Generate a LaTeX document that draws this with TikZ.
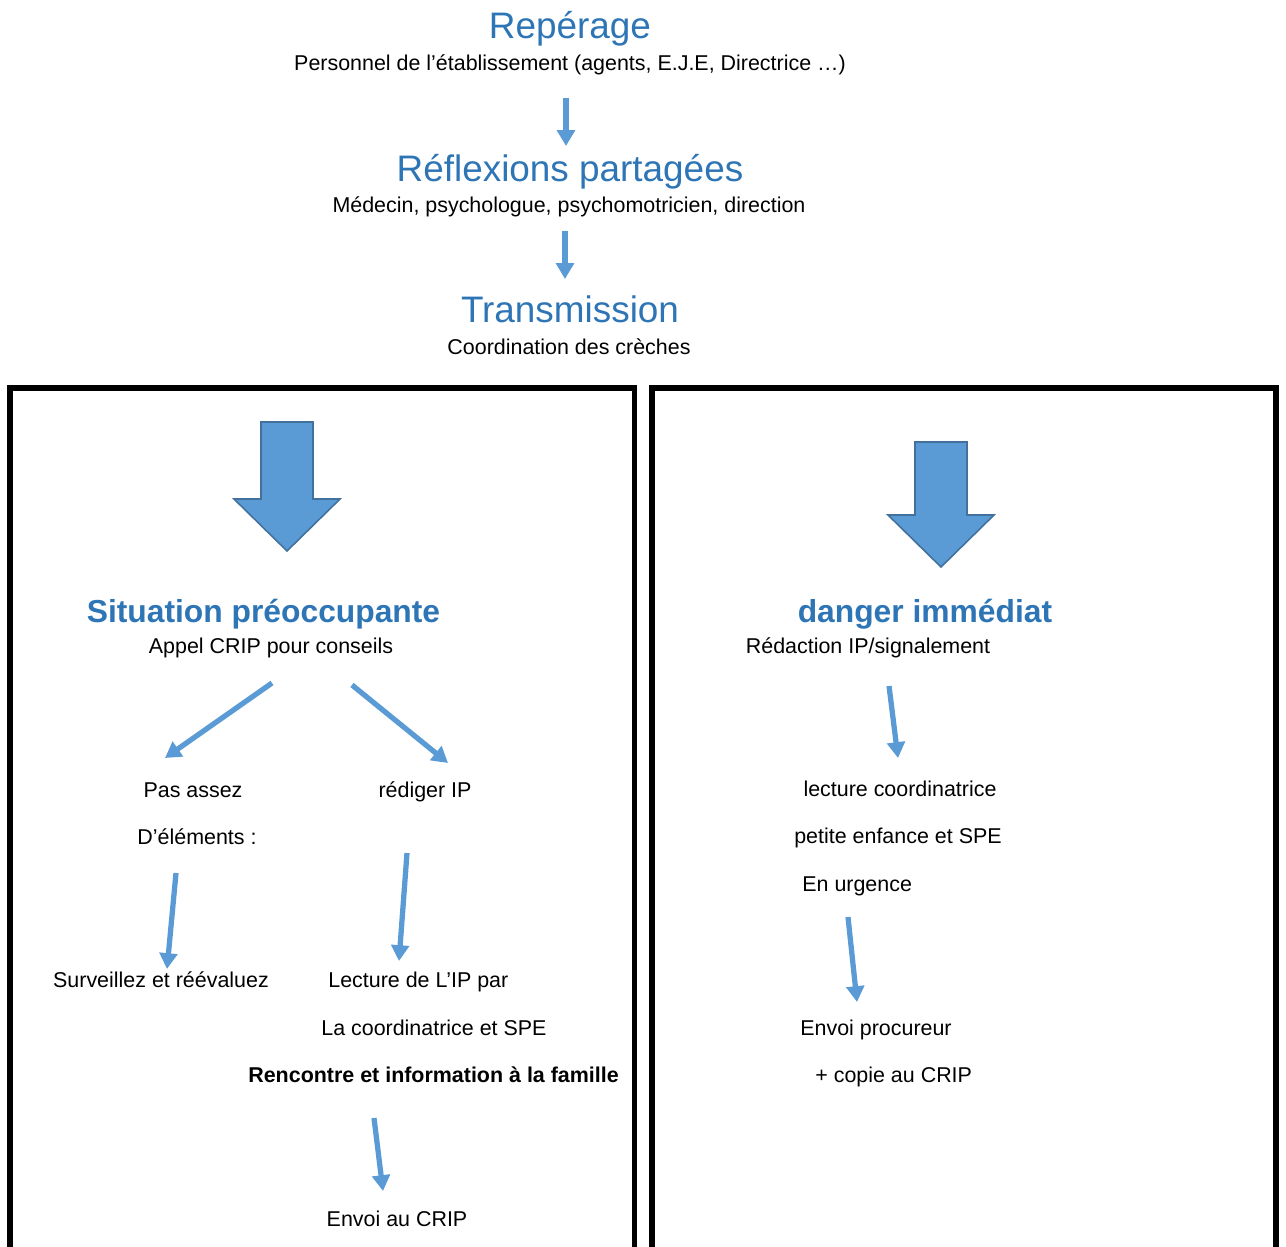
\documentclass[tikz,border=0pt]{standalone}
\usepackage{fontspec}
\setmainfont{Liberation Sans}
\usetikzlibrary{arrows.meta}
\definecolor{titleblue}{HTML}{2E75B6}
\definecolor{arrowblue}{HTML}{5B9BD5}
\definecolor{arrowedge}{HTML}{41719C}
\tikzset{
  body/.style={anchor=base, inner sep=0pt, font=\fontsize{12.2pt}{14pt}\selectfont},
  bodyw/.style={body, anchor=base west},
  bigtitle/.style={anchor=base, inner sep=0pt, text=titleblue, font=\fontsize{21pt}{25pt}\selectfont},
  boldtitle/.style={anchor=base, inner sep=0pt, text=titleblue, font=\fontsize{18.1pt}{22pt}\selectfont\bfseries},
  flow/.style={draw=arrowblue, line width=3pt, -{Triangle[length=9pt,width=10pt]}},
  boxline/.style={draw=black, line width=3.4pt, line join=miter},
  bigarrow/.style={fill=arrowblue, draw=arrowedge, line width=0.9pt, line join=miter}
}
\begin{document}
\begin{tikzpicture}[x=0.02cm, y=-0.02cm]
\useasboundingbox (0,0) rectangle (1286,1247);
\clip (0,0) rectangle (1286,1247);

% top titles
\node[bigtitle] (rep) at (570,39) {Repérage};
\node[body] (repsub) at (570,71) {Personnel de l’établissement (agents, E.J.E, Directrice …)};
\node[bigtitle] (refl) at (570,182) {Réflexions partagées};
\node[body] (reflsub) at (569,212.5) {Médecin, psychologue, psychomotricien, direction};
\node[bigtitle] (trans) at (570,322) {Transmission};
\node[body] (transsub) at (569,354) {Coordination des crèches};

\coordinate (a1s) at (566,98);  \coordinate (a1e) at (566,146);
\coordinate (a2s) at (565,231); \coordinate (a2e) at (565,279);
\draw[flow] (a1s) -- (a1e);
\draw[flow] (a2s) -- (a2e);

% boxes (open at the bottom)
\coordinate (lb1) at (10,1260); \coordinate (lb2) at (10,388);
\coordinate (lb3) at (634.5,388); \coordinate (lb4) at (634.5,1260);
\draw[boxline] (lb1) -- (lb2) -- (lb3) -- (lb4);
\coordinate (rb1) at (652,1260); \coordinate (rb2) at (652,388);
\coordinate (rb3) at (1276,388); \coordinate (rb4) at (1276,1260);
\draw[boxline] (rb1) -- (rb2) -- (rb3) -- (rb4);

% big block arrows
\draw[bigarrow] (261,422) -- (313,422) -- (313,499) -- (340,499) -- (287,551) -- (234,499) -- (261,499) -- cycle;
\draw[bigarrow] (915,442) -- (967,442) -- (967,515) -- (994,515) -- (941,567) -- (888,515) -- (915,515) -- cycle;

% left box
\node[boldtitle] (sit) at (263.5,622) {Situation préoccupante};
\node[body] (appel) at (271,653) {Appel CRIP pour conseils};
\node[body] (pas) at (193,797) {Pas assez};
\node[body] (delem) at (197,844) {D’éléments :};
\node[body] (redig) at (425,797) {rédiger IP};
\node[body] (surv) at (161,987) {Surveillez et réévaluez};
\node[bodyw] (lect) at (328,987) {Lecture de L’IP par};
\node[bodyw] (coord) at (321,1035.5) {La coordinatrice et SPE};
\node[body, anchor=base west, font=\fontsize{12.2pt}{14pt}\selectfont\bfseries] (renc) at (248,1082) {Rencontre et information à la famille};
\node[body] (envoi) at (397,1226) {Envoi au CRIP};

\coordinate (b1s) at (272,683); \coordinate (b1e) at (165,758);
\coordinate (b2s) at (352,685); \coordinate (b2e) at (448,763);
\coordinate (b3s) at (176,873); \coordinate (b3e) at (167,969);
\coordinate (b4s) at (407,853); \coordinate (b4e) at (399,961);
\coordinate (b5s) at (374,1118); \coordinate (b5e) at (383,1191);
\draw[flow] (b1s) -- (b1e);
\draw[flow] (b2s) -- (b2e);
\draw[flow] (b3s) -- (b3e);
\draw[flow] (b4s) -- (b4e);
\draw[flow] (b5s) -- (b5e);

% right box
\node[boldtitle] (dang) at (925,622.5) {danger immédiat};
\node[body] (redac) at (868,653) {Rédaction IP/signalement};
\node[body] (lcoord) at (900,796) {lecture coordinatrice};
\node[body] (petite) at (898,843.5) {petite enfance et SPE};
\node[bodyw] (urg) at (802,891.5) {En urgence};
\node[bodyw] (proc) at (800,1035.5) {Envoi procureur};
\node[bodyw] (copie) at (815,1082.5) {+ copie au CRIP};

\coordinate (c1s) at (889,686); \coordinate (c1e) at (898,758);
\coordinate (c2s) at (848,917); \coordinate (c2e) at (857,1002);
\draw[flow] (c1s) -- (c1e);
\draw[flow] (c2s) -- (c2e);
\end{tikzpicture}
\end{document}
